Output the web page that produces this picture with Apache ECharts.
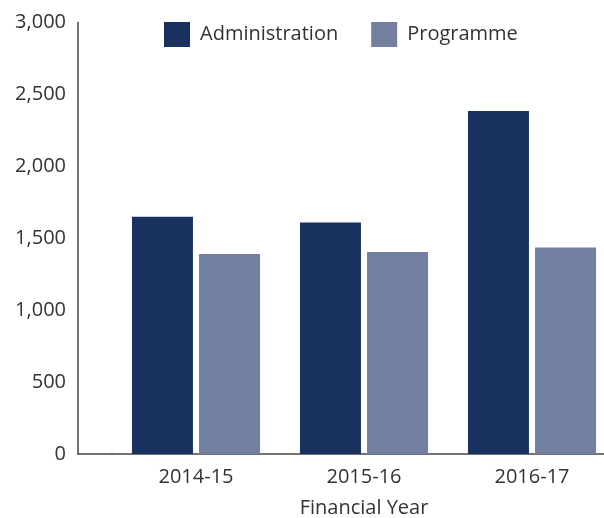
<!DOCTYPE html>
<html><head><meta charset="utf-8">
<script src="https://cdn.jsdelivr.net/npm/echarts@6/dist/echarts.min.js"></script>
<style>html,body{margin:0;padding:0;background:#fff}#c{width:604px;height:518px}</style>
</head><body><div id="c"></div>
<script>
const categories = ['2014-15', '2015-16', '2016-17'];
const administration = [1650, 1610, 2385];
const programme = [1390, 1405, 1435];
const yTicks = [0, 500, 1000, 1500, 2000, 2500, 3000];
const seriesNames = ['Administration', 'Programme'];
const xAxisName = 'Financial Year';

const FONT = 'Open Sans';
const chart = echarts.init(document.getElementById('c'));
chart.setOption({
  animation: false,
  textStyle: { fontFamily: FONT },
  legend: {
    data: seriesNames,
    top: 22, left: 164, padding: 0,
    itemWidth: 26, itemHeight: 25, itemGap: 33,
    icon: 'rect',
    textStyle: { fontSize: 20, color: '#333', fontFamily: FONT, padding: [0, 0, 0, 5] }
  },
  grid: [
    { left: 112, right: -12, top: 22.5, bottom: 64, containLabel: false, outerBoundsMode: 'none' },
    { left: 78, width: 34, top: 22.5, bottom: 64, outerBoundsMode: 'none' }
  ],
  xAxis: [
    {
      type: 'category', data: categories, gridIndex: 0,
      axisLine: { lineStyle: { color: '#444', width: 1.5 } },
      axisTick: { show: false },
      axisLabel: { fontSize: 20, color: '#333', margin: 13 },
      name: xAxisName, nameLocation: 'middle', nameGap: 44,
      nameTextStyle: { fontSize: 20, color: '#333' }
    },
    {
      type: 'category', data: [''], gridIndex: 1,
      axisLine: { lineStyle: { color: '#444', width: 1.5 } },
      axisTick: { show: false }, axisLabel: { show: false }
    }
  ],
  yAxis: [
    {
      type: 'value', gridIndex: 0, min: 0, max: 3000, interval: 500,
      offset: 34,
      axisLine: { show: true, lineStyle: { color: '#444', width: 1.5 } },
      axisTick: { show: false },
      splitLine: { show: false },
      axisLabel: {
        fontSize: 20, color: '#333', margin: 12,
        formatter: v => yTicks.includes(v) ? v.toLocaleString('en-US') : ''
      }
    },
    { type: 'value', gridIndex: 1, min: 0, max: 3000, show: false }
  ],
  series: [
    {
      name: seriesNames[0], type: 'bar', data: administration,
      xAxisIndex: 0, yAxisIndex: 0,
      barWidth: 61, barGap: '10%',
      itemStyle: { color: '#18325F' }
    },
    {
      name: seriesNames[1], type: 'bar', data: programme,
      xAxisIndex: 0, yAxisIndex: 0,
      barWidth: 61, barGap: '10%',
      itemStyle: { color: '#727FA1' }
    }
  ]
});
</script></body></html>
